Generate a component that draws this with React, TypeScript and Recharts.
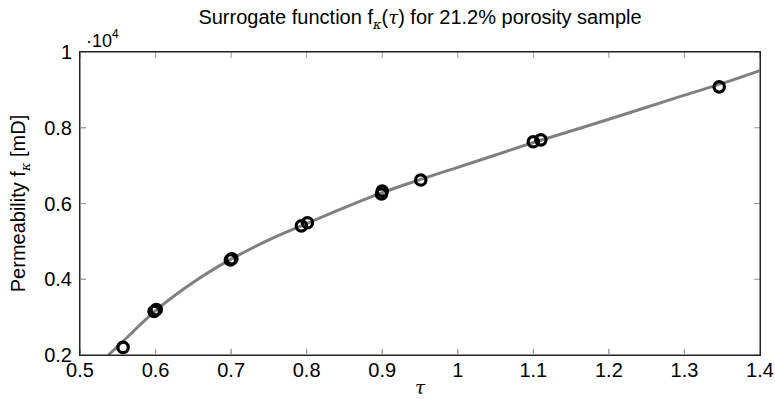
import React from "react"
import {
  ComposedChart,
  Line,
  Scatter,
  XAxis,
  YAxis,
  ReferenceLine,
} from "recharts"

// surrogate curve
const curveTau = [0.5375, 0.55, 0.6, 0.65, 0.7, 0.75, 0.8, 0.85, 0.9, 0.95, 1.0, 1.05, 1.1, 1.15, 1.2, 1.25, 1.3, 1.35, 1.4]
const curvePerm = [2000, 2230, 3170, 3920, 4530, 5040, 5470, 5890, 6285, 6630, 6955, 7280, 7610, 7915, 8225, 8540, 8860, 9170, 9510]

// sample points
const sampleTau = [0.557, 0.598, 0.601, 0.699, 0.701, 0.793, 0.801, 0.899, 0.9, 0.951, 1.1, 1.11, 1.346]
const samplePerm = [2200, 3150, 3200, 4510, 4540, 5410, 5490, 6250, 6330, 6620, 7630, 7680, 9080]

const xTicks = [0.5, 0.6, 0.7, 0.8, 0.9, 1, 1.1, 1.2, 1.3, 1.4]
const yTicks = [2000, 4000, 6000, 8000, 10000]

const X_MIN = 0.5
const X_MAX = 1.4
const Y_MIN = 2000
const Y_MAX = 10000
// inner tick length (~6px) in data units
const TICK_DX = 0.008
const TICK_DY = 160

const curve = curveTau.map((tau, i) => ({ tau, perm: curvePerm[i] }))
const samples = sampleTau.map((tau, i) => ({ tau, perm: samplePerm[i] }))

const FONT = "'Liberation Sans', Arial, Helvetica, sans-serif"
const TICK = { fill: "#000", fontSize: 20, fontFamily: FONT }
const TICK_COLOR = "#999"

function Ring(props: any) {
  const { cx, cy } = props
  if (cx == null || cy == null) return null
  return <circle cx={cx} cy={cy} r={5.2} fill="none" stroke="#000" strokeWidth={3.2} />
}

function YLabel(props: any) {
  const vb = props.viewBox || {}
  const cy = (vb.y ?? 52) + (vb.height ?? 303) / 2
  return (
    <text
      x={25}
      y={cy}
      transform={`rotate(-90, 25, ${cy})`}
      textAnchor="middle"
      fontFamily={FONT}
      fontSize={20}
      fill="#000"
    >
      Permeability f
      <tspan fontSize={13} fontFamily="'DejaVu Serif', serif" fontStyle="italic" dy={5}>κ</tspan>
      <tspan dy={-5}> [mD]</tspan>
    </text>
  )
}

function XLabel(props: any) {
  const vb = props.viewBox || {}
  const cx = (vb.x ?? 80) + (vb.width ?? 680) / 2
  return (
    <text
      x={cx}
      y={394}
      textAnchor="middle"
      fontFamily="'DejaVu Serif', serif"
      fontStyle="italic"
      fontSize={18}
      fill="#000"
    >
      τ
    </text>
  )
}

export default function App() {
  return (
    <div style={{ position: "absolute", left: 0, top: 0, width: 775, height: 399, background: "#fff" }}>
      <div
        style={{
          position: "absolute",
          left: 80,
          width: 680,
          top: 6,
          textAlign: "center",
          fontFamily: FONT,
          fontSize: 20,
          lineHeight: "22px",
          color: "#000",
          whiteSpace: "nowrap",
        }}
      >
        Surrogate function f
        <span style={{ fontSize: 13, position: "relative", top: 5, fontFamily: "'DejaVu Serif', serif", fontStyle: "italic" }}>κ</span>
        (<span style={{ fontFamily: "'DejaVu Serif', serif", fontStyle: "italic", fontSize: 18 }}>τ</span>) for 21.2% porosity sample
      </div>
      <div
        style={{
          position: "absolute",
          left: 86,
          top: 26,
          fontFamily: FONT,
          fontSize: 18,
          lineHeight: "20px",
          color: "#000",
          zIndex: 2,
        }}
      >
        ·10<sup style={{ fontSize: 12, position: "relative", top: -2 }}>4</sup>
      </div>
      <ComposedChart
        width={775}
        height={399}
        margin={{ top: 52, right: 15, bottom: 14, left: 30 }}
      >
        <XAxis
          dataKey="tau"
          type="number"
          domain={[X_MIN, X_MAX]}
          ticks={xTicks}
          height={30}
          tick={TICK}
          tickSize={-6}
          tickMargin={14}
          tickLine={{ stroke: TICK_COLOR }}
          axisLine={{ stroke: "#222" }}
          label={{ content: <XLabel /> }}
        />
        <YAxis
          type="number"
          domain={[Y_MIN, Y_MAX]}
          ticks={yTicks}
          width={50}
          tick={TICK}
          tickSize={-6}
          tickMargin={14}
          tickLine={{ stroke: TICK_COLOR }}
          axisLine={{ stroke: "#222" }}
          tickFormatter={(v: number) => String(v / 10000)}
          label={{ content: <YLabel /> }}
        />
        {/* pgfplots-style inner ticks on all four sides */}
        {xTicks.map((t) => (
          <ReferenceLine
            key={"xb" + t}
            segment={[{ x: t, y: Y_MIN }, { x: t, y: Y_MIN + TICK_DY }]}
            stroke={TICK_COLOR}
            ifOverflow="visible"
          />
        ))}
        {xTicks.map((t) => (
          <ReferenceLine
            key={"xt" + t}
            segment={[{ x: t, y: Y_MAX }, { x: t, y: Y_MAX - TICK_DY }]}
            stroke={TICK_COLOR}
            ifOverflow="visible"
          />
        ))}
        {yTicks.map((t) => (
          <ReferenceLine
            key={"yl" + t}
            segment={[{ x: X_MIN, y: t }, { x: X_MIN + TICK_DX, y: t }]}
            stroke={TICK_COLOR}
            ifOverflow="visible"
          />
        ))}
        {yTicks.map((t) => (
          <ReferenceLine
            key={"yr" + t}
            segment={[{ x: X_MAX, y: t }, { x: X_MAX - TICK_DX, y: t }]}
            stroke={TICK_COLOR}
            ifOverflow="visible"
          />
        ))}
        <ReferenceLine y={Y_MAX} stroke="#222" ifOverflow="visible" />
        <ReferenceLine x={X_MAX} stroke="#222" ifOverflow="visible" />
        <Line
          data={curve}
          dataKey="perm"
          type="monotone"
          stroke="#808080"
          strokeWidth={3}
          dot={false}
          activeDot={false}
          isAnimationActive={false}
        />
        <Scatter
          data={samples}
          dataKey="perm"
          shape={<Ring />}
          isAnimationActive={false}
        />
      </ComposedChart>
      {/* plot frame */}
      <div
        style={{
          position: "absolute",
          left: 79,
          top: 51,
          width: 682,
          height: 305,
          boxSizing: "border-box",
          border: "1px solid #222",
          pointerEvents: "none",
        }}
      />
    </div>
  )
}
